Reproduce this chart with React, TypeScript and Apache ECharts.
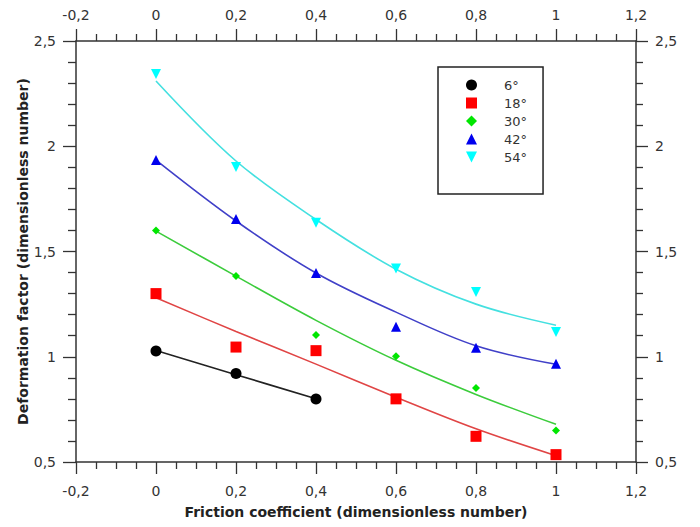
import React, { useEffect, useRef } from "react";
import * as echarts from "echarts";

const xValues = [0, 0.2, 0.4, 0.6, 0.8, 1];
const seriesNames = ["6°", "18°", "30°", "42°", "54°"];

const measured6 = [1.027, 0.92, 0.799];
const measured18 = [1.30, 1.046, 1.029, 0.80, 0.622, 0.535];
const measured30 = [1.60, 1.384, 1.103, 1.002, 0.851, 0.65];
const measured42 = [1.935, 1.654, 1.398, 1.142, 1.043, 0.967];
const measured54 = [2.343, 1.902, 1.636, 1.419, 1.308, 1.118];

const fit6 = [1.03, 0.915, 0.80];
const fit18 = [1.28, 1.12, 0.965, 0.808, 0.658, 0.53];
const fit30 = [1.597, 1.383, 1.173, 0.983, 0.821, 0.679];
const fit42 = [1.934, 1.645, 1.398, 1.212, 1.052, 0.964];
const fit54 = [2.31, 1.93, 1.652, 1.416, 1.25, 1.15];

const markerColors = ["#000000", "#ff0000", "#00e600", "#0000ee", "#00ffff"];
const lineColors = ["#222222", "#e04545", "#3ccc3c", "#4040c8", "#44e0e0"];
const symbols = ["circle", "rect", "diamond", "triangle", "path://M0,0L10,0L5,10Z"];
const symbolSizes = [11, 11, 8, 10, 10];

const measured = [measured6, measured18, measured30, measured42, measured54];
const fits = [fit6, fit18, fit30, fit42, fit54];

const FONT = "DejaVu Sans";
const axisColor = "#333333";

const fmt = (v: number) => String(Math.round(v * 100) / 100).replace(".", ",");

export default function App() {
  const ref = useRef<HTMLDivElement>(null);
  useEffect(() => {
    if (!ref.current) return;
    const chart = echarts.init(ref.current, undefined, { renderer: "svg" });

    const xBase = (pos: "bottom" | "top", margin: number) => ({
      type: "value" as const,
      position: pos,
      min: -0.2,
      max: 1.2,
      interval: 0.2,
      axisLine: { show: true, onZero: false, lineStyle: { color: axisColor, width: 1.5 } },
      axisTick: { show: true, inside: false, length: 12, lineStyle: { color: axisColor, width: 1.3 } },
      minorTick: { show: true, splitNumber: 4, length: 7, lineStyle: { color: axisColor, width: 1.3 } },
      splitLine: { show: false },
      minorSplitLine: { show: false },
      axisLabel: { margin, color: axisColor, fontFamily: FONT, fontSize: 14, formatter: fmt },
    });
    const yBase = (pos: "left" | "right", margin: number, tickLen: number, minorLen: number) => ({
      type: "value" as const,
      position: pos,
      min: 0.5,
      max: 2.5,
      interval: 0.5,
      axisLine: { show: true, onZero: false, lineStyle: { color: axisColor, width: 1.5 } },
      axisTick: { show: true, inside: false, length: tickLen, lineStyle: { color: axisColor, width: 1.3 } },
      minorTick: { show: true, splitNumber: 5, length: minorLen, lineStyle: { color: axisColor, width: 1.3 } },
      splitLine: { show: false },
      minorSplitLine: { show: false },
      axisLabel: { margin, color: axisColor, fontFamily: FONT, fontSize: 14, formatter: fmt },
    });

    const series: any[] = [];
    fits.forEach((f, i) => {
      series.push({
        name: seriesNames[i] + " fit",
        type: "line",
        data: f.map((y, j) => [xValues[j], y]),
        smooth: 0.35,
        showSymbol: false,
        symbol: "none",
        lineStyle: { color: lineColors[i], width: 1.6 },
        z: 2,
        silent: true,
      });
    });
    measured.forEach((m, i) => {
      series.push({
        name: seriesNames[i],
        type: "scatter",
        data: m.map((y, j) => [xValues[j], y]),
        symbol: symbols[i],
        symbolSize: symbolSizes[i],
        symbolKeepAspect: true,
        itemStyle: { color: markerColors[i], opacity: 1 },
        z: 3,
      });
    });

    chart.setOption({
      animation: false,
      backgroundColor: "#ffffff",
      grid: { left: 76, right: 64, top: 41, bottom: 65, containLabel: false },
      xAxis: [
        {
          ...xBase("bottom", 22),
          name: "Friction coefficient (dimensionless number)",
          nameLocation: "middle",
          nameGap: 43,
          nameMoveOverlap: false,
          nameTextStyle: { fontFamily: FONT, fontSize: 14, fontWeight: "bold", color: "#222" },
        },
        xBase("top", 19),
      ],
      yAxis: [
        {
          ...yBase("left", 20, 13, 8),
          name: "Deformation factor (dimensionless number)",
          nameLocation: "middle",
          nameGap: 46,
          nameMoveOverlap: false,
          nameTextStyle: { fontFamily: FONT, fontSize: 14, fontWeight: "bold", color: "#222" },
        },
        yBase("right", 19, 12, 7),
      ],
      legend: {
        data: seriesNames,
        orient: "vertical",
        left: 438,
        top: 67,
        padding: [11, 16, 30, 28],
        itemWidth: 11,
        itemHeight: 11,
        itemGap: 4,
        borderColor: "#222",
        borderWidth: 1.5,
        backgroundColor: "#ffffff",
        selectedMode: false,
        textStyle: { fontFamily: FONT, fontSize: 13, color: "#333", padding: [0, 0, 0, 22], lineHeight: 14 },
      },
      series,
    });
    return () => chart.dispose();
  }, []);
  return <div ref={ref} style={{ position: "fixed", left: 0, top: 0, width: 700, height: 527 }} />;
}
